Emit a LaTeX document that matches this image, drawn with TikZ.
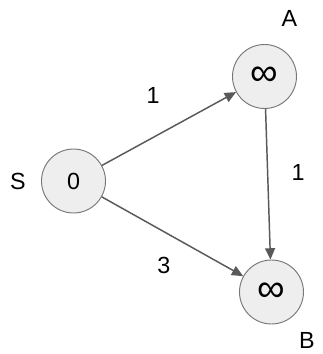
\documentclass[tikz,border=0pt]{standalone}
\usepackage{fontspec}
\setmainfont{Liberation Sans}
\usetikzlibrary{arrows.meta}

\definecolor{vertexfill}{HTML}{EEEEEE}
\definecolor{vertexline}{HTML}{777777}
\definecolor{edgeline}{HTML}{595959}

\newcommand{\infdist}{{\fontsize{29}{30}\selectfont ∞}}

\begin{document}
\begin{tikzpicture}[x=0.75pt, y=-0.75pt,
		vertex/.style={draw=vertexline, line width=0.7pt, fill=vertexfill, circle, minimum size=48pt, inner sep=0pt},
		edge/.style={draw=edgeline, line width=1.1pt, -{Triangle[length=8.5pt,width=7.5pt]}},
		every node/.style={font=\fontsize{17.5}{20}\selectfont}]
	\useasboundingbox (0,0) rectangle (323,354);
	
	% Vertices with their distances
	\node (s) [vertex] at (73.5,181) {0};
	\node (a) [vertex] at (264.5,76.5) {\infdist};
	\node (b) [vertex] at (271.5,292) {\infdist};
	
	% Vertex names
	\node (sname) at (18,181.5) {S};
	\node (aname) at (289.5,18.5) {A};
	\node (bname) at (307,340) {B};
	
	% Weighted edges
	\draw[edge] (s) -- node[midway, xshift=-12pt, yshift=25.3pt] {1} (a);
	\draw[edge] (a) -- node[midway, xshift=22.5pt, yshift=9.2pt] {1} (b);
	\draw[edge] (s) -- node[midway, xshift=-6.4pt, yshift=-21.4pt] {3} (b);
\end{tikzpicture}
\end{document}
